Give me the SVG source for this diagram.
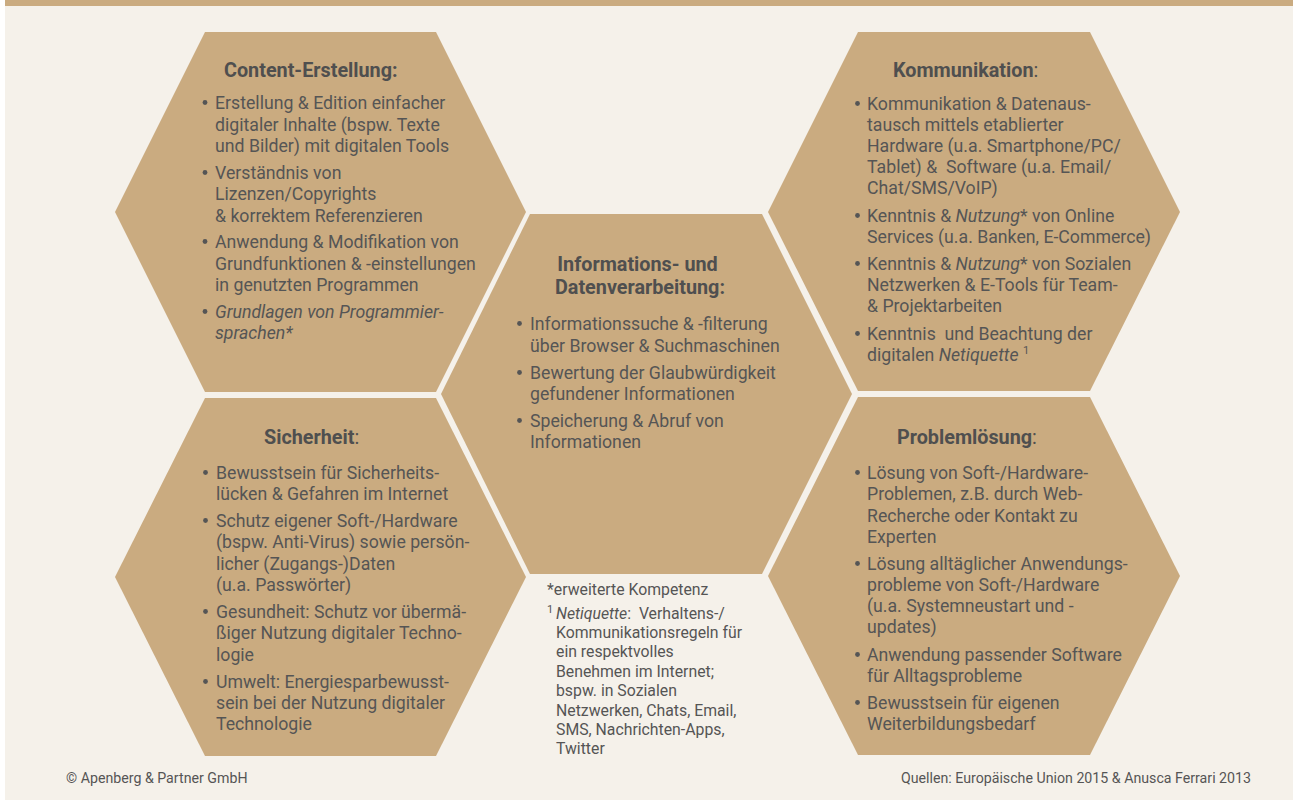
<svg xmlns="http://www.w3.org/2000/svg" width="1293" height="800" viewBox="0 0 1293 800">
  <style>
    .hex { fill: #caab80; }
    .title { font-family: Roboto, "Liberation Sans", sans-serif; font-size: 19.8px; font-weight: bold; fill: #4f4f4f; }
    .body { font-family: Roboto, "Liberation Sans", sans-serif; font-size: 17.7px; fill: #555555; }
    .note { font-family: Roboto, "Liberation Sans", sans-serif; font-size: 15.8px; fill: #555555; }
    .foot { font-family: Roboto, "Liberation Sans", sans-serif; font-size: 14.2px; fill: #555555; }
    .sup { font-size: 11px; }
    .it { font-style: italic; }
    .dot { fill: #555555; }
  </style>
  <defs>
    <circle id="bullet" class="dot" r="2.4"/>
  </defs>

  <!-- page background -->
  <rect x="0" y="0" width="1293" height="800" fill="#ffffff"/>
  <rect x="5" y="0" width="1288" height="800" fill="#f5f1ea"/>
  <rect x="5" y="0" width="1288" height="6" fill="#caab80"/>

  <!-- Content-Erstellung -->
  <g id="content-erstellung">
    <polygon class="hex" points="205,32 436,32 526,212 436,392 205,392 115,212"/>
    <text class="title" x="224" y="77">Content-Erstellung:</text>
    <use href="#bullet" x="205" y="102.5"/>
    <use href="#bullet" x="205" y="172.5"/>
    <use href="#bullet" x="205" y="241.5"/>
    <use href="#bullet" x="205" y="311.5"/>
    <text class="body">
      <tspan x="215" y="109">Erstellung &amp; Edition einfacher</tspan>
      <tspan x="215" y="131">digitaler Inhalte (bspw. Texte</tspan>
      <tspan x="215" y="152">und Bilder) mit digitalen Tools</tspan>
      <tspan x="215" y="179">Verständnis von</tspan>
      <tspan x="215" y="200">Lizenzen/Copyrights</tspan>
      <tspan x="215" y="222">&amp; korrektem Referenzieren</tspan>
      <tspan x="215" y="248">Anwendung &amp; Modifikation von</tspan>
      <tspan x="215" y="270">Grundfunktionen &amp; -einstellungen</tspan>
      <tspan x="215" y="291">in genutzten Programmen</tspan>
      <tspan class="it" x="215" y="318">Grundlagen von Programmier-</tspan>
      <tspan class="it" x="215" y="339">sprachen*</tspan>
    </text>
  </g>

  <!-- Kommunikation -->
  <g id="kommunikation">
    <polygon class="hex" points="858,32 1090,32 1180,212 1090,391 858,391 768,212"/>
    <text class="title" x="893" y="77">Kommunikation<tspan font-weight="normal">:</tspan></text>
    <use href="#bullet" x="857.5" y="103.5"/>
    <use href="#bullet" x="857.5" y="215.5"/>
    <use href="#bullet" x="857.5" y="263.5"/>
    <use href="#bullet" x="857.5" y="333.5"/>
    <text class="body">
      <tspan x="867" y="110">Kommunikation &amp; Datenaus-</tspan>
      <tspan x="867" y="131">tausch mittels etablierter</tspan>
      <tspan x="867" y="152">Hardware (u.a. Smartphone/PC/</tspan>
      <tspan x="867" y="173">Tablet) &amp;&#160; Software (u.a. Email/</tspan>
      <tspan x="867" y="194">Chat/SMS/VoIP)</tspan>
      <tspan x="867" y="222">Kenntnis &amp; <tspan class="it">Nutzung</tspan>* von Online</tspan>
      <tspan x="867" y="243">Services (u.a. Banken, E-Commerce)</tspan>
      <tspan x="867" y="270">Kenntnis &amp; <tspan class="it">Nutzung</tspan>* von Sozialen</tspan>
      <tspan x="867" y="291">Netzwerken &amp; E-Tools für Team-</tspan>
      <tspan x="867" y="312">&amp; Projektarbeiten</tspan>
      <tspan x="867" y="340">Kenntnis&#160; und Beachtung der</tspan>
      <tspan x="867" y="361">digitalen <tspan class="it">Netiquette</tspan> <tspan class="sup" dy="-7">1</tspan></tspan>
    </text>
  </g>

  <!-- Informations- und Datenverarbeitung -->
  <g id="informationsverarbeitung">
    <polygon class="hex" points="530,214 762,214 852,394 762,574 530,574 441,394"/>
    <text class="title" text-anchor="middle">
      <tspan x="640" y="271">Informations- und</tspan>
      <tspan x="640" y="294">Datenverarbeitung:</tspan>
    </text>
    <use href="#bullet" x="519.5" y="323.5"/>
    <use href="#bullet" x="519.5" y="372.5"/>
    <use href="#bullet" x="519.5" y="420.5"/>
    <text class="body">
      <tspan x="530" y="330">Informationssuche &amp; -filterung</tspan>
      <tspan x="530" y="352">über Browser &amp; Suchmaschinen</tspan>
      <tspan x="530" y="379">Bewertung der Glaubwürdigkeit</tspan>
      <tspan x="530" y="400">gefundener Informationen</tspan>
      <tspan x="530" y="427">Speicherung &amp; Abruf von</tspan>
      <tspan x="530" y="448">Informationen</tspan>
    </text>
  </g>

  <!-- Sicherheit -->
  <g id="sicherheit">
    <polygon class="hex" points="205,398 436,398 526,577 436,756 205,756 115,577"/>
    <text class="title" x="264" y="444">Sicherheit<tspan font-weight="normal">:</tspan></text>
    <use href="#bullet" x="205.5" y="472.5"/>
    <use href="#bullet" x="205.5" y="520.5"/>
    <use href="#bullet" x="205.5" y="611.5"/>
    <use href="#bullet" x="205.5" y="681.5"/>
    <text class="body">
      <tspan x="216" y="479">Bewusstsein für Sicherheits-</tspan>
      <tspan x="216" y="500">lücken &amp; Gefahren im Internet</tspan>
      <tspan x="216" y="527">Schutz eigener Soft-/Hardware</tspan>
      <tspan x="216" y="548">(bspw. Anti-Virus) sowie persön-</tspan>
      <tspan x="216" y="570">licher (Zugangs-)Daten</tspan>
      <tspan x="216" y="591">(u.a. Passwörter)</tspan>
      <tspan x="216" y="618">Gesundheit: Schutz vor übermä-</tspan>
      <tspan x="216" y="639">ßiger Nutzung digitaler Techno-</tspan>
      <tspan x="216" y="661">logie</tspan>
      <tspan x="216" y="688">Umwelt: Energiesparbewusst-</tspan>
      <tspan x="216" y="709">sein bei der Nutzung digitaler</tspan>
      <tspan x="216" y="730">Technologie</tspan>
    </text>
  </g>

  <!-- Problemlösung -->
  <g id="problemloesung">
    <polygon class="hex" points="858,397 1090,397 1180,576 1090,755 858,755 768,576"/>
    <text class="title" x="897" y="444">Problemlösung<tspan font-weight="normal">:</tspan></text>
    <use href="#bullet" x="857.5" y="472.5"/>
    <use href="#bullet" x="857.5" y="563.5"/>
    <use href="#bullet" x="857.5" y="654.5"/>
    <use href="#bullet" x="857.5" y="702.5"/>
    <text class="body">
      <tspan x="867" y="479">Lösung von Soft-/Hardware-</tspan>
      <tspan x="867" y="500">Problemen, z.B. durch Web-</tspan>
      <tspan x="867" y="522">Recherche oder Kontakt zu</tspan>
      <tspan x="867" y="543">Experten</tspan>
      <tspan x="867" y="570">Lösung alltäglicher Anwendungs-</tspan>
      <tspan x="867" y="591">probleme von Soft-/Hardware</tspan>
      <tspan x="867" y="612">(u.a. Systemneustart und -</tspan>
      <tspan x="867" y="633">updates)</tspan>
      <tspan x="867" y="661">Anwendung passender Software</tspan>
      <tspan x="867" y="682">für Alltagsprobleme</tspan>
      <tspan x="867" y="709">Bewusstsein für eigenen</tspan>
      <tspan x="867" y="730">Weiterbildungsbedarf</tspan>
    </text>
  </g>

  <!-- footnotes -->
  <g id="footnotes">
    <text class="note">
      <tspan x="547" y="595">*erweiterte Kompetenz</tspan>
      <tspan class="sup" x="547" y="613">1</tspan>
      <tspan x="556" y="619"><tspan class="it">Netiquette</tspan>:&#160; Verhaltens-/</tspan>
      <tspan x="556" y="638">Kommunikationsregeln für</tspan>
      <tspan x="556" y="657">ein respektvolles</tspan>
      <tspan x="556" y="677">Benehmen im Internet;</tspan>
      <tspan x="556" y="696">bspw. in Sozialen</tspan>
      <tspan x="556" y="716">Netzwerken, Chats, Email,</tspan>
      <tspan x="556" y="735">SMS, Nachrichten-Apps,</tspan>
      <tspan x="556" y="754">Twitter</tspan>
    </text>
  </g>

  <!-- footer -->
  <g id="footer">
    <text class="foot" x="66" y="783">© Apenberg &amp; Partner GmbH</text>
    <text class="foot" x="1251" y="783" text-anchor="end">Quellen: Europäische Union 2015 &amp; Anusca Ferrari 2013</text>
  </g>
</svg>
